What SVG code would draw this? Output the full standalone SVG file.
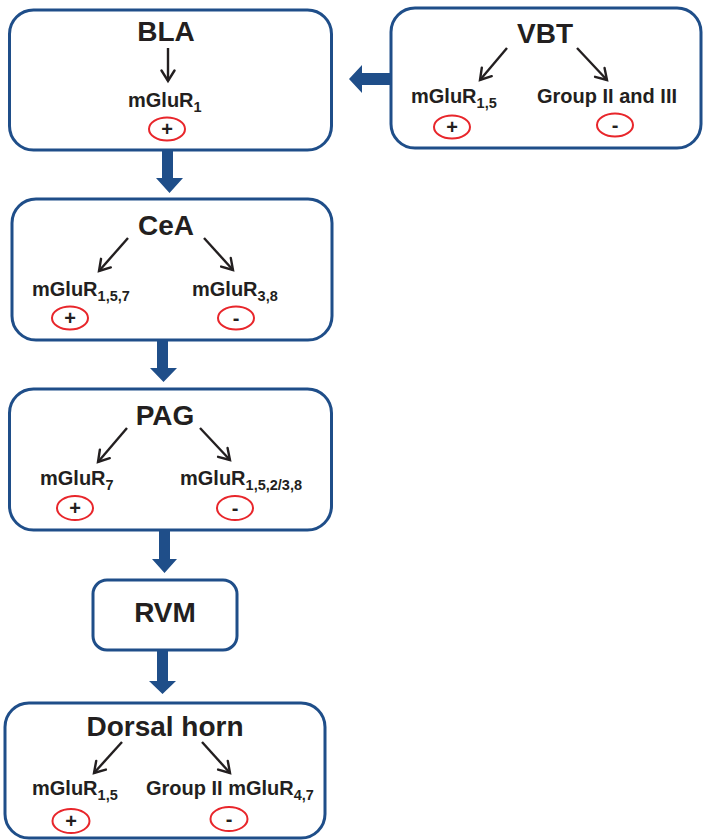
<svg xmlns="http://www.w3.org/2000/svg" width="703" height="840" viewBox="0 0 703 840">
<style>
.box{fill:#fff;stroke:#1f4e89;stroke-width:3}
.big{fill:#1f4e89}
.t{font-family:"Liberation Sans",Arial,sans-serif;font-weight:bold;fill:#231f20}
.title{font-size:28px;text-anchor:middle}
.lab{font-size:20px}
.sub{font-size:14.5px}
.sign{font-size:20px;text-anchor:middle}
.ring{fill:none;stroke:#e8262b;stroke-width:2}
.thin{stroke:#231f20;stroke-width:2.4;fill:none;marker-end:url(#ah)}
</style>
<defs>
<marker id="ah" markerUnits="userSpaceOnUse" markerWidth="18" markerHeight="18" refX="12" refY="8" orient="auto">
<path d="M1.5,1.5 L12,8 L1.5,14.5" fill="none" stroke="#231f20" stroke-width="2.4" stroke-linecap="round" stroke-linejoin="miter"/>
</marker>
</defs>

<g id="BLA">
<rect class="box" x="9.5" y="10" width="322" height="140" rx="24"/>
<text class="t title" x="166" y="41">BLA</text>
<text class="t lab" x="128" y="107">mGluR<tspan class="sub" dy="5">1</tspan></text>
<ellipse class="ring" cx="167" cy="129" rx="18" ry="11.5"/>
<text class="t sign" x="167" y="136">+</text>
</g>

<g id="VBT">
<rect class="box" x="391" y="8" width="310" height="140" rx="24"/>
<text class="t title" x="545" y="43">VBT</text>
<text class="t lab" x="411" y="103">mGluR<tspan class="sub" dy="5">1,5</tspan></text>
<text class="t lab" x="537" y="103">Group II and III</text>
<ellipse class="ring" cx="452" cy="127" rx="18" ry="11.5"/>
<text class="t sign" x="452" y="134">+</text>
<ellipse class="ring" cx="615" cy="125" rx="18" ry="11.5"/>
<text class="t sign" x="615" y="132">-</text>
</g>

<g id="CeA">
<rect class="box" x="12" y="199" width="320" height="141" rx="24"/>
<text class="t title" x="166" y="235">CeA</text>
<text class="t lab" x="32" y="296">mGluR<tspan class="sub" dy="5">1,5,7</tspan></text>
<text class="t lab" x="192" y="296">mGluR<tspan class="sub" dy="5">3,8</tspan></text>
<ellipse class="ring" cx="70" cy="318" rx="18" ry="11.5"/>
<text class="t sign" x="70" y="325">+</text>
<ellipse class="ring" cx="236" cy="318" rx="18" ry="11.5"/>
<text class="t sign" x="236" y="325">-</text>
</g>

<g id="PAG">
<rect class="box" x="9.5" y="389" width="322" height="141" rx="24"/>
<text class="t title" x="165" y="425">PAG</text>
<text class="t lab" x="40" y="485">mGluR<tspan class="sub" dy="5">7</tspan></text>
<text class="t lab" x="180" y="485">mGluR<tspan class="sub" dy="5">1,5,2/3,8</tspan></text>
<ellipse class="ring" cx="75" cy="508" rx="18" ry="12"/>
<text class="t sign" x="75" y="515">+</text>
<ellipse class="ring" cx="235" cy="508" rx="18" ry="12"/>
<text class="t sign" x="235" y="515">-</text>
</g>

<g id="RVM">
<rect class="box" x="93" y="580" width="144" height="70" rx="14"/>
<text class="t title" x="165" y="622">RVM</text>
</g>

<g id="DorsalHorn">
<rect class="box" x="5" y="703" width="320" height="135" rx="24"/>
<text class="t title" x="165" y="736">Dorsal horn</text>
<text class="t lab" x="32" y="795">mGluR<tspan class="sub" dy="5">1,5</tspan></text>
<text class="t lab" x="146" y="795">Group II mGluR<tspan class="sub" dy="5">4,7</tspan></text>
<ellipse class="ring" cx="71" cy="821" rx="18.5" ry="12"/>
<text class="t sign" x="71" y="828">+</text>
<ellipse class="ring" cx="229" cy="819" rx="18.5" ry="12"/>
<text class="t sign" x="229" y="826">-</text>
</g>

<g id="connectors">
<polygon class="big" points="162,150 173,150 173,178 183,178 169.5,193 156,178 162,178"/>
<polygon class="big" points="157,340 168,340 168,368 177,368 163.5,382 150,368 157,368"/>
<polygon class="big" points="159,530 170,530 170,559 177,559 164.5,573 152,559 159,559"/>
<polygon class="big" points="157,650 168,650 168,681 176,681 162.5,694 149,681 157,681"/>
<polygon class="big" points="391,73 391,85 362,85 362,93 349,79 362,65 362,73"/>
<line class="thin" x1="168" y1="48" x2="168" y2="81"/>
<line class="thin" x1="507" y1="48" x2="480" y2="80"/>
<line class="thin" x1="577" y1="48" x2="607" y2="80"/>
<line class="thin" x1="128" y1="238" x2="99" y2="271"/>
<line class="thin" x1="204" y1="238" x2="233" y2="270"/>
<line class="thin" x1="127" y1="428" x2="98" y2="462"/>
<line class="thin" x1="200" y1="428" x2="230" y2="460"/>
<line class="thin" x1="122" y1="742" x2="94" y2="773"/>
<line class="thin" x1="202" y1="742" x2="230" y2="773"/>
</g>
</svg>
